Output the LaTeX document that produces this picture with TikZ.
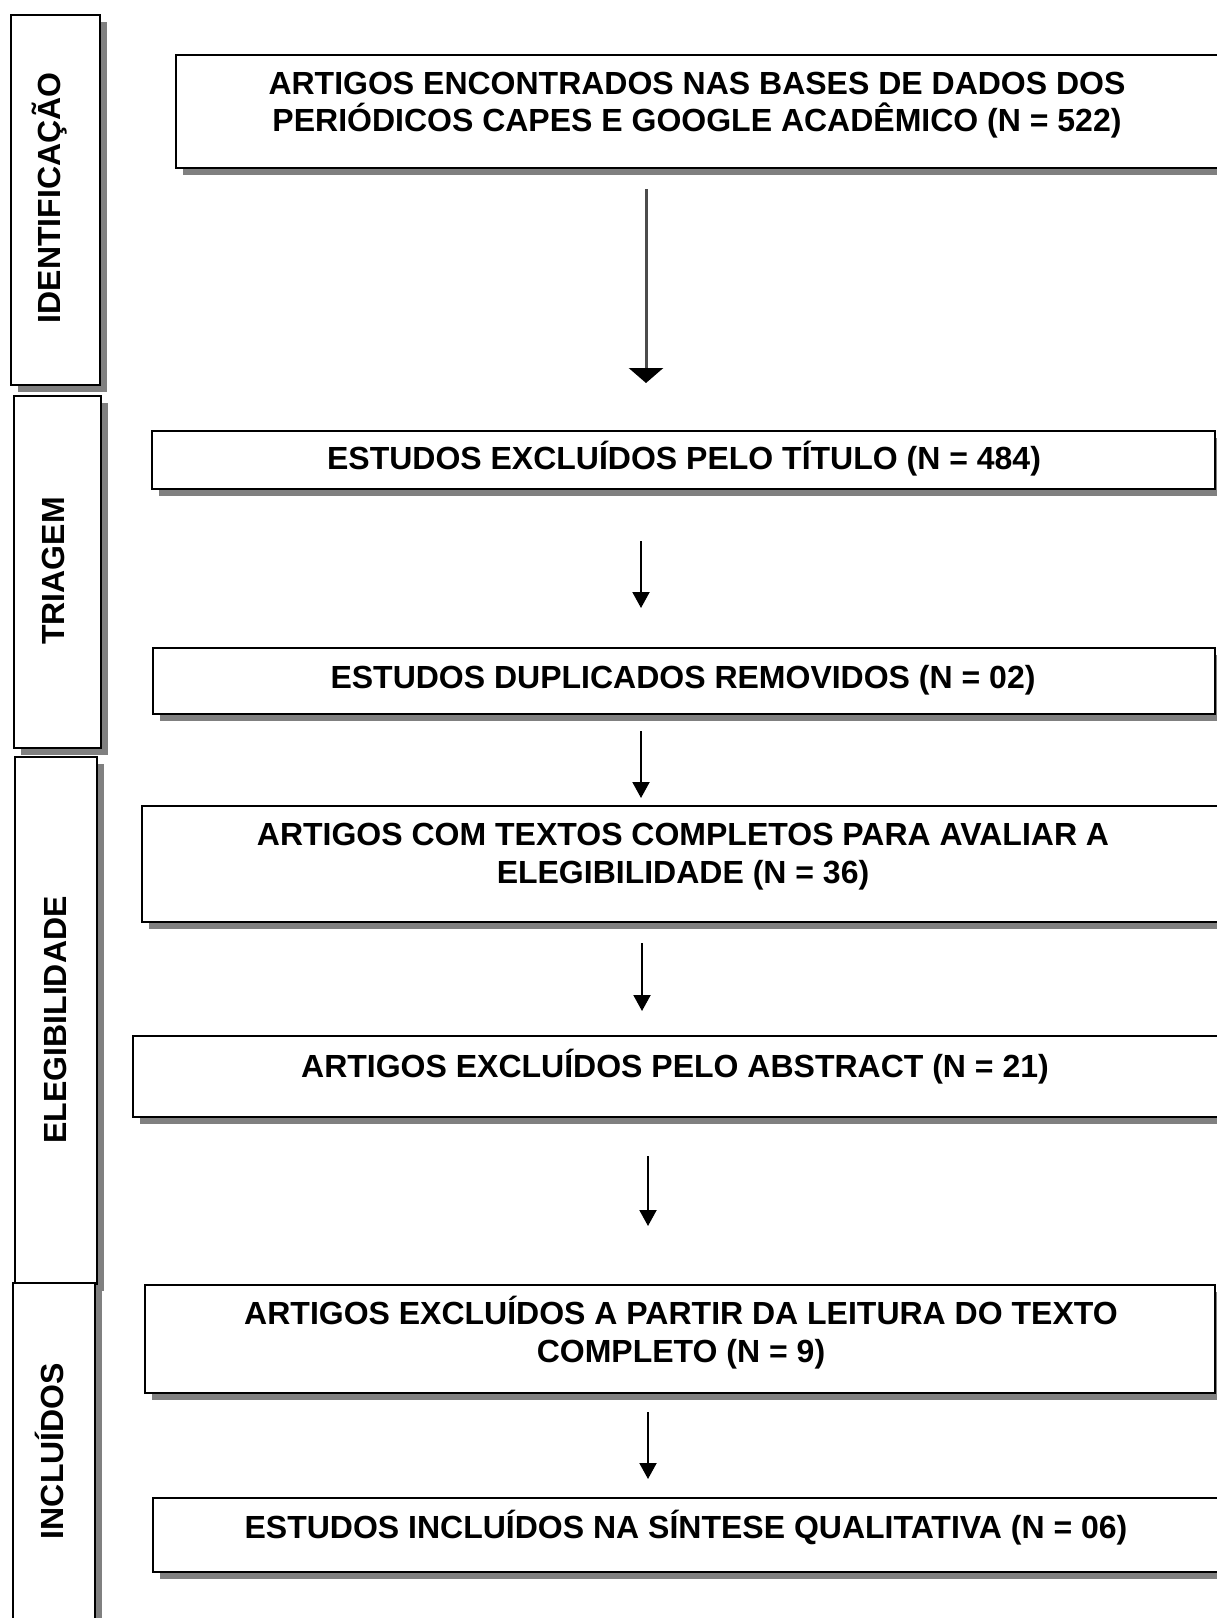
\documentclass[tikz,border=0pt]{standalone}
\usepackage{fontspec}
\setmainfont{Liberation Sans}
\usetikzlibrary{arrows.meta,shadows}
\tikzset{
  box/.style={draw=black, line width=2.2pt, fill=white, inner sep=0pt, anchor=north west,
    drop shadow={shadow xshift=6.5pt, shadow yshift=-6.5pt, fill=black!50, opacity=1}},
  lbl/.style={font=\bfseries\fontsize{32}{37}\selectfont, inner sep=0pt, anchor=base},
  side/.style={lbl, rotate=90},
  bigarrow/.style={line width=3pt, draw=black!70, -{Triangle[width=34pt,length=15pt,color=black]}},
  arr/.style={line width=2pt, draw=black, -{Triangle[width=17pt,length=16pt]}}
}
\begin{document}
\begin{tikzpicture}[x=1pt,y=-1pt]
\useasboundingbox[fill=white] (0,0) rectangle (1217,1618);
% side boxes
\node[box, minimum width=89pt, minimum height=370pt] (s1) at (10,14) {};
\node[box, minimum width=87pt, minimum height=352pt] (s2) at (13,395) {};
\node[box, minimum width=82pt, minimum height=527pt] (s3) at (14,756) {};
\node[box, minimum width=82pt, minimum height=343pt] (s4) at (12,1282) {};
\node[side] (ls1) at (60,198) {IDENTIFICAÇÃO};
\node[side] (ls2) at (64,571) {TRIAGEM};
\node[side] (ls3) at (66,1020) {ELEGIBILIDADE};
\node[side] (ls4) at (63,1451) {INCLUÍDOS};
% main boxes
\node[box, minimum width=1065pt, minimum height=113pt] (b1) at (175,54) {};
\node[box, minimum width=1063pt, minimum height=58pt] (b2) at (151,430) {};
\node[box, minimum width=1062pt, minimum height=66pt] (b3) at (152,647) {};
\node[box, minimum width=1099pt, minimum height=116pt] (b4) at (141,805) {};
\node[box, minimum width=1108pt, minimum height=81pt] (b5) at (132,1035) {};
\node[box, minimum width=1070pt, minimum height=108pt] (b6) at (144,1284) {};
\node[box, minimum width=1088pt, minimum height=74pt] (b7) at (152,1497) {};
% texts
\node[lbl] (t1a) at (697,94) {ARTIGOS ENCONTRADOS NAS BASES DE DADOS DOS};
\node[lbl] (t1b) at (697,131) {PERIÓDICOS CAPES E GOOGLE ACADÊMICO (N = 522)};
\node[lbl] (t2) at (684,469) {ESTUDOS EXCLUÍDOS PELO TÍTULO (N = 484)};
\node[lbl] (t3) at (683,688) {ESTUDOS DUPLICADOS REMOVIDOS (N = 02)};
\node[lbl] (t4a) at (683,845) {ARTIGOS COM TEXTOS COMPLETOS PARA AVALIAR A};
\node[lbl] (t4b) at (683,883) {ELEGIBILIDADE (N = 36)};
\node[lbl] (t5) at (675,1077) {ARTIGOS EXCLUÍDOS PELO ABSTRACT (N = 21)};
\node[lbl] (t6a) at (681,1324) {ARTIGOS EXCLUÍDOS A PARTIR DA LEITURA DO TEXTO};
\node[lbl] (t6b) at (681,1362) {COMPLETO (N = 9)};
\node[lbl] (t7) at (686,1538) {ESTUDOS INCLUÍDOS NA SÍNTESE QUALITATIVA (N = 06)};
% arrow ends
\coordinate (a1s) at (646,189); \coordinate (a1e) at (646,383);
\coordinate (a2s) at (641,541); \coordinate (a2e) at (641,608);
\coordinate (a3s) at (641,731); \coordinate (a3e) at (641,798);
\coordinate (a4s) at (642,943); \coordinate (a4e) at (642,1011);
\coordinate (a5s) at (648,1156); \coordinate (a5e) at (648,1226);
\coordinate (a6s) at (648,1412); \coordinate (a6e) at (648,1479);
\draw[bigarrow] (a1s) -- (a1e);
\draw[arr] (a2s) -- (a2e);
\draw[arr] (a3s) -- (a3e);
\draw[arr] (a4s) -- (a4e);
\draw[arr] (a5s) -- (a5e);
\draw[arr] (a6s) -- (a6e);
\end{tikzpicture}
\end{document}
